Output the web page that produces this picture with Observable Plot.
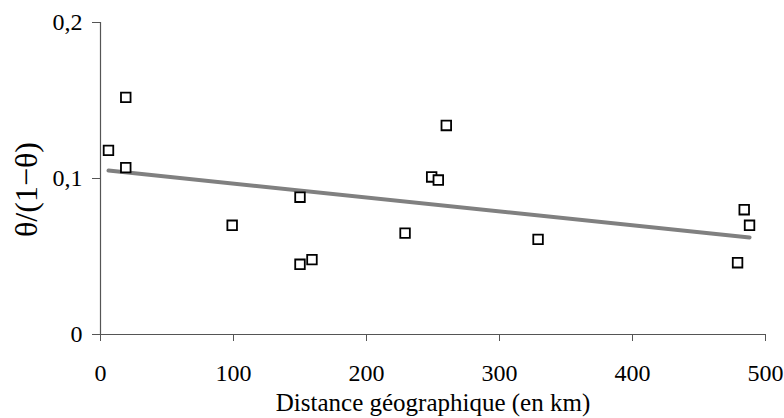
<!DOCTYPE html>
<html>
<head>
<meta charset="utf-8">
<script src="https://cdn.jsdelivr.net/npm/d3@7"></script>
<script src="https://cdn.jsdelivr.net/npm/@observablehq/plot@0.6"></script>
<style>
  html, body { margin: 0; padding: 0; background: #fff; }
  svg { display: block; }
  svg text { font-family: "Liberation Serif", "DejaVu Serif", serif !important; }
</style>
</head>
<body>
<div id="chart"></div>
<script>
// Distance géographique (km)
const distances = [6, 19, 19, 99, 150, 150, 159, 229, 249, 254, 260, 329, 479, 484, 488];
// θ/(1−θ)
const ratios = [0.118, 0.152, 0.107, 0.070, 0.088, 0.045, 0.048, 0.065, 0.101, 0.099, 0.134, 0.061, 0.046, 0.080, 0.070];
const xTicks = [0, 100, 200, 300, 400, 500];
const yTicks = [0, 0.1, 0.2];
const xTitle = "Distance géographique (en km)";
const yTitle = "θ/(1−θ)";

const data = distances.map((d, i) => ({x: d, y: ratios[i]}));
const fmtY = d => d === 0 ? "0" : d3.format(".1f")(d).replace(".", ",");
const serif = "Liberation Serif";

const chart = Plot.plot({
  width: 784,
  height: 418,
  marginLeft: 100,
  marginRight: 19,
  marginTop: 22,
  marginBottom: 84,
  style: {fontFamily: serif, fontSize: "24px", color: "#000", background: "#fff"},
  x: {domain: [0, 500]},
  y: {domain: [0, 0.2]},
  marks: [
    Plot.axisX({ticks: xTicks, tickSize: 7, tickPadding: 22, tickFormat: d => String(d), stroke: "#555", label: null, fill: "#000", fontSize: 24, fontFamily: serif}),
    Plot.axisY({ticks: yTicks, tickSize: 8, tickPadding: 10, tickFormat: fmtY, stroke: "#555", label: null, fill: "#000", fontSize: 24, fontFamily: serif}),
    Plot.ruleY([0], {stroke: "#555", strokeWidth: 1.2}),
    Plot.ruleX([0], {stroke: "#555", strokeWidth: 1.2}),
    Plot.linearRegressionY(data, {x: "x", y: "y", ci: 0, stroke: "#808080", strokeWidth: 4}),
    Plot.dot(data, {x: "x", y: "y", symbol: "square", r: 5.4, stroke: "#000", strokeWidth: 1.8, fill: "#fff"}),
    Plot.text([xTitle], {frameAnchor: "bottom", dy: 76, fontSize: 25, letterSpacing: "1px", fill: "#000", fontFamily: serif}),
    Plot.text([yTitle], {frameAnchor: "left", textAnchor: "middle", rotate: -90, dx: -74, dy: 11, fontSize: 32, letterSpacing: "1px", fill: "#000", fontFamily: serif})
  ]
});
document.getElementById("chart").appendChild(chart);
</script>
</body>
</html>
